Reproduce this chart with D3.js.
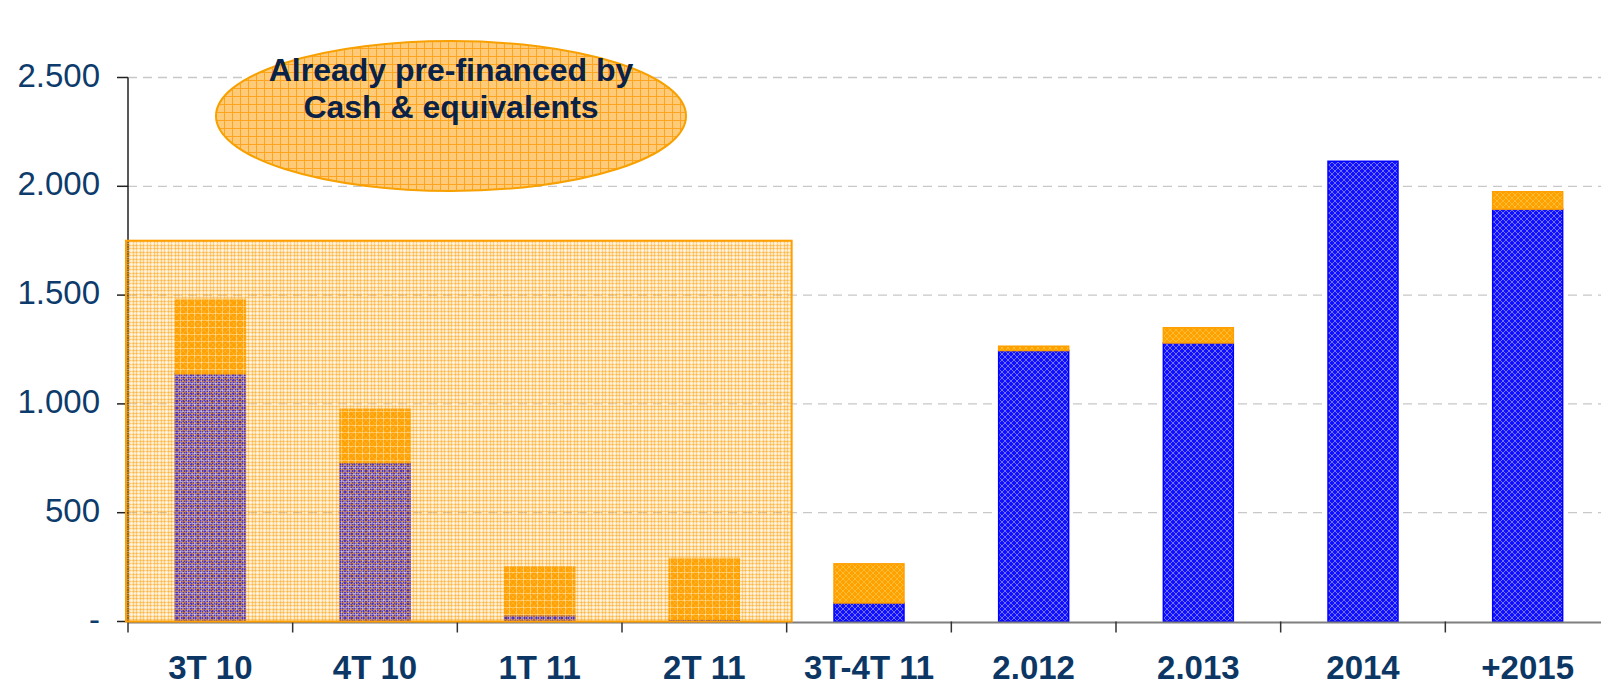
<!DOCTYPE html>
<html>
<head>
<meta charset="utf-8">
<script src="https://cdnjs.cloudflare.com/ajax/libs/d3/7.8.5/d3.min.js"></script>
<style>
  body { margin: 0; background: #fff; }
  svg { display: block; font-family: Arial, "Liberation Sans", sans-serif; }
</style>
</head>
<body>
<div id="chart"></div>
<script>
// data
var categories = ["3T 10", "4T 10", "1T 11", "2T 11", "3T-4T 11", "2.012", "2.013", "2014", "+2015"];
var blueValues = [1140, 730, 30, 10, 85, 1245, 1280, 2115, 1895];
var orangeValues = [340, 245, 220, 280, 180, 20, 70, 0, 80];
var yTicks = [0, 500, 1000, 1500, 2000, 2500];
var yTickLabels = ["-", "500", "1.000", "1.500", "2.000", "2.500"];
var shadedCategories = ["3T 10", "4T 10", "1T 11", "2T 11"];
var shadedTop = 1750;
var noteLines = ["Already pre-financed by", "Cash & equivalents"];

var width = 1601, height = 687;

var svg = d3.select("#chart").append("svg")
    .attr("width", width)
    .attr("height", height);

var defs = svg.append("defs");

// blue crosshatch pattern
var pb = defs.append("pattern").attr("id", "blueHatch")
    .attr("patternUnits", "userSpaceOnUse").attr("width", 6).attr("height", 6);
pb.append("rect").attr("width", 6).attr("height", 6).attr("fill", "#1010ff");
pb.append("path").attr("d", "M0,0L6,6M6,0L0,6").attr("stroke", "#7070ff").attr("stroke-width", 1);

// orange crosshatch pattern
var po = defs.append("pattern").attr("id", "orangeHatch")
    .attr("patternUnits", "userSpaceOnUse").attr("width", 6).attr("height", 6);
po.append("rect").attr("width", 6).attr("height", 6).attr("fill", "#ffa200");
po.append("path").attr("d", "M0,0L6,6M6,0L0,6").attr("stroke", "#ffbb33").attr("stroke-width", 1);

// fine grid for the shaded overlay
var pg = defs.append("pattern").attr("id", "fineGrid")
    .attr("patternUnits", "userSpaceOnUse").attr("width", 7).attr("height", 7);
pg.append("rect").attr("width", 7).attr("height", 7).attr("fill", "rgba(255,165,0,0.25)");
pg.append("path").attr("d", "M0.5,0V7M3.5,0V7M0,0.5H7M0,3.5H7")
    .attr("stroke", "rgba(255,160,20,0.45)").attr("stroke-width", 1);
pg.append("path").attr("d", "M5.5,0V7M0,5.5H7")
    .attr("stroke", "rgba(255,255,255,0.35)").attr("stroke-width", 1);

// grid for the ellipse
var pe = defs.append("pattern").attr("id", "ellGrid")
    .attr("patternUnits", "userSpaceOnUse").attr("width", 8).attr("height", 8);
pe.append("rect").attr("width", 8).attr("height", 8).attr("fill", "#ffcb78");
pe.append("path").attr("d", "M0.5,0V8M0,0.5H8")
    .attr("stroke", "#ffa420").attr("stroke-width", 1);

// scales
var x = d3.scaleBand()
    .domain(categories)
    .range([128, 1610])
    .paddingInner(0.575)
    .paddingOuter(0.2875);

var xOuter = d3.scaleBand()
    .domain(categories)
    .range([128, 1610]);

var y = d3.scaleLinear()
    .domain([0, 2500])
    .range([621.5, 77.5]);

// gridlines
svg.append("g").selectAll("line")
    .data(yTicks.slice(1))
    .join("line")
    .attr("x1", 128).attr("x2", width)
    .attr("y1", function(d) { return y(d); })
    .attr("y2", function(d) { return y(d); })
    .attr("stroke", "#c8c8c8")
    .attr("stroke-width", 1.3)
    .attr("stroke-dasharray", "9,6");

// stacked bars
var table = categories.map(function(c, i) {
    return { cat: c, blue: blueValues[i], orange: orangeValues[i] };
});
var series = d3.stack().keys(["blue", "orange"])(table);
var fills = { blue: "url(#blueHatch)", orange: "url(#orangeHatch)" };
var strokes = { blue: "#0000ff", orange: "#ffa000" };

svg.append("g").selectAll("g")
    .data(series)
    .join("g")
    .attr("fill", function(s) { return fills[s.key]; })
    .attr("stroke", function(s) { return strokes[s.key]; })
    .attr("stroke-width", 1.5)
    .selectAll("rect")
    .data(function(s) { return s.filter(function(d) { return d[1] > d[0]; }); })
    .join("rect")
    .attr("x", function(d) { return x(d.data.cat); })
    .attr("width", x.bandwidth())
    .attr("y", function(d) { return y(d[1]); })
    .attr("height", function(d) { return y(d[0]) - y(d[1]); });

// x axis
svg.append("line")
    .attr("x1", 128).attr("x2", width)
    .attr("y1", y(0) + 1).attr("y2", y(0) + 1)
    .attr("stroke", "#7f7f7f").attr("stroke-width", 2);

svg.append("g").selectAll("line")
    .data(categories)
    .join("line")
    .attr("x1", function(d) { return xOuter(d); })
    .attr("x2", function(d) { return xOuter(d); })
    .attr("y1", y(0)).attr("y2", y(0) + 11)
    .attr("stroke", "#333").attr("stroke-width", 1.5);

svg.append("g").selectAll("text")
    .data(categories)
    .join("text")
    .attr("x", function(d) { return x(d) + x.bandwidth() / 2; })
    .attr("y", 679)
    .attr("text-anchor", "middle")
    .attr("font-size", 33)
    .attr("font-weight", "bold")
    .attr("fill", "#0c3764")
    .text(function(d) { return d; });

// y axis
svg.append("line")
    .attr("x1", 128).attr("x2", 128)
    .attr("y1", y(2500)).attr("y2", y(0))
    .attr("stroke", "#222").attr("stroke-width", 1.5);

svg.append("g").selectAll("line")
    .data(yTicks)
    .join("line")
    .attr("x1", 117).attr("x2", 128)
    .attr("y1", function(d) { return y(d); })
    .attr("y2", function(d) { return y(d); })
    .attr("stroke", "#222").attr("stroke-width", 1.5);

svg.append("g").selectAll("text")
    .data(yTicks)
    .join("text")
    .attr("x", 100)
    .attr("y", function(d) { return y(d) + 9; })
    .attr("text-anchor", "end")
    .attr("font-size", 33)
    .attr("fill", "#0d3b6b")
    .text(function(d, i) { return yTickLabels[i]; });

// shaded "already pre-financed" region
var sx0 = xOuter(shadedCategories[0]) - 2;
var sx1 = xOuter(shadedCategories[shadedCategories.length - 1]) + xOuter.bandwidth() + 5;
svg.append("rect")
    .attr("x", sx0)
    .attr("y", y(shadedTop))
    .attr("width", sx1 - sx0)
    .attr("height", y(0) - y(shadedTop))
    .attr("fill", "url(#fineGrid)")
    .attr("stroke", "#ffa000")
    .attr("stroke-width", 2);

// note ellipse
svg.append("ellipse")
    .attr("cx", 451).attr("cy", 116)
    .attr("rx", 235).attr("ry", 75)
    .attr("fill", "url(#ellGrid)")
    .attr("stroke", "#f7a000")
    .attr("stroke-width", 2);

svg.append("g").selectAll("text")
    .data(noteLines)
    .join("text")
    .attr("x", 451)
    .attr("y", function(d, i) { return 81 + i * 37; })
    .attr("text-anchor", "middle")
    .attr("font-size", 32)
    .attr("font-weight", "bold")
    .attr("fill", "#0a2248")
    .text(function(d) { return d; });
</script>
</body>
</html>
